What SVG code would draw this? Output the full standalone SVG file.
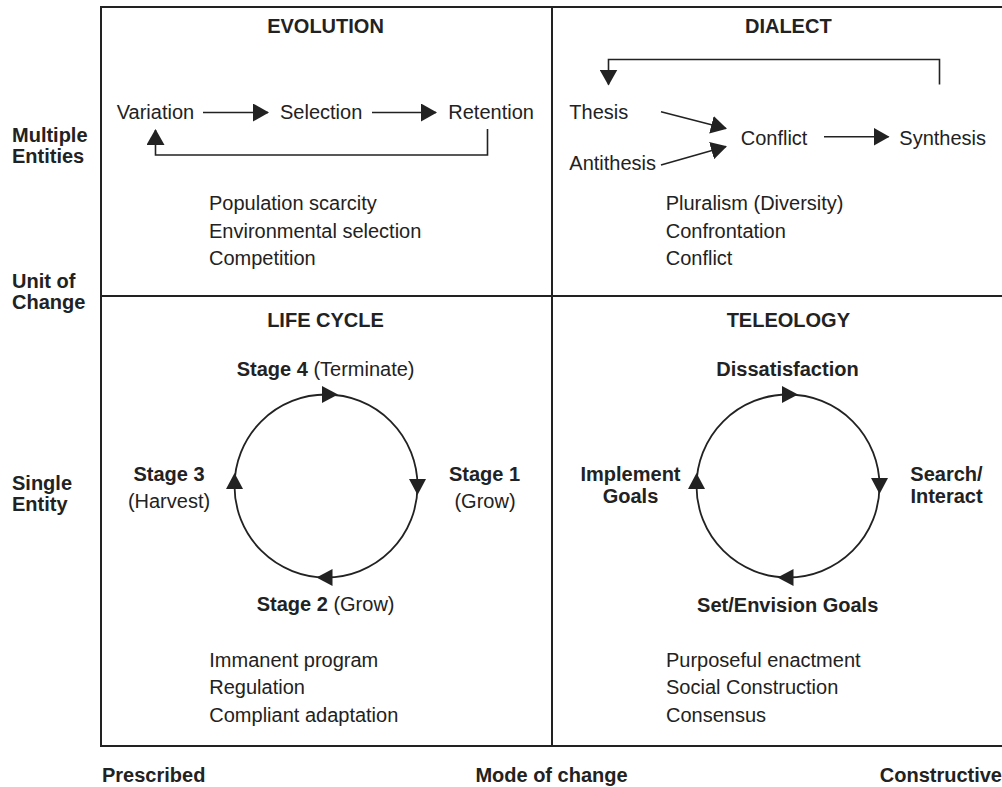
<svg xmlns="http://www.w3.org/2000/svg" xmlns:xlink="http://www.w3.org/1999/xlink" width="1002" height="787" viewBox="0 0 1002 787">
<style>
text{font-family:"Liberation Sans",Arial,sans-serif;font-size:20px;fill:#222}
.b{font-weight:bold}
.c{text-anchor:middle}
.frame{stroke:#222;stroke-width:2;fill:none}
.con{stroke:#222;stroke-width:1.6;fill:none}
.ring{stroke:#222;stroke-width:1.8;fill:none}
.head{fill:#222}
</style>
<defs>
<marker id="arr" viewBox="0 0 16 18" refX="15" refY="9" markerWidth="16" markerHeight="18" markerUnits="userSpaceOnUse" orient="auto">
<path d="M0,0 L16,9 L0,18 z" fill="#222"/>
</marker>
<path id="ah" d="M-8,-8.5 L8,0 L-8,8.5 z" class="head"/>
</defs>
<rect width="1002" height="787" fill="#fff"/>
<g id="frame">
<path class="frame" d="M1002,7 H101 V746 H1002"/>
<path class="frame" d="M552,7 V746"/>
<path class="frame" d="M101,296 H1002"/>
</g>
<g id="axis-labels">
<text class="b" x="12" y="141.7">Multiple</text>
<text class="b" x="12" y="163.3">Entities</text>
<text class="b" x="12" y="288">Unit of</text>
<text class="b" x="12" y="308.5">Change</text>
<text class="b" x="12" y="490">Single</text>
<text class="b" x="12" y="511">Entity</text>
<text class="b" x="102" y="782">Prescribed</text>
<text class="b c" x="551.5" y="782">Mode of change</text>
<text class="b" x="1002" y="782" text-anchor="end">Constructive</text>
</g>
<g id="connectors">
<line class="con" x1="203" y1="112.5" x2="268" y2="112.5" marker-end="url(#arr)"/>
<line class="con" x1="372" y1="112.5" x2="436" y2="112.5" marker-end="url(#arr)"/>
<path class="con" d="M487.5,129 V155 H155.5 V130" marker-end="url(#arr)"/>
<path class="con" d="M939.5,84.5 V59.5 H608.5 V84.5" marker-end="url(#arr)"/>
<line class="con" x1="661" y1="111.7" x2="726" y2="128.5" marker-end="url(#arr)"/>
<line class="con" x1="661" y1="165" x2="726" y2="146.5" marker-end="url(#arr)"/>
<line class="con" x1="824" y1="136.7" x2="888.5" y2="136.7" marker-end="url(#arr)"/>
<circle class="ring" cx="326" cy="486" r="91.5"/>
<use xlink:href="#ah" transform="translate(330,394.5)"/>
<use xlink:href="#ah" transform="translate(417.5,487) rotate(90)"/>
<use xlink:href="#ah" transform="translate(324.5,577.5) rotate(180)"/>
<use xlink:href="#ah" transform="translate(234.5,481) rotate(-90)"/>
<circle class="ring" cx="788" cy="486" r="91.5"/>
<use xlink:href="#ah" transform="translate(790,394.5)"/>
<use xlink:href="#ah" transform="translate(879.5,486) rotate(90)"/>
<use xlink:href="#ah" transform="translate(785.5,577.5) rotate(180)"/>
<use xlink:href="#ah" transform="translate(696.5,481) rotate(-90)"/>
</g>
<g id="evolution">
<text class="b c" x="325.5" y="33.3">EVOLUTION</text>
<text x="116.7" y="119">Variation</text>
<text x="280" y="119">Selection</text>
<text x="448.3" y="119">Retention</text>
<text x="209" y="210">Population scarcity</text>
<text x="209" y="237.5">Environmental selection</text>
<text x="209" y="265">Competition</text>
</g>
<g id="dialect">
<text class="b c" x="788.3" y="33.3">DIALECT</text>
<text x="569.3" y="119">Thesis</text>
<text x="569.3" y="170">Antithesis</text>
<text x="740.7" y="145">Conflict</text>
<text x="899.3" y="145">Synthesis</text>
<text x="665.7" y="210">Pluralism (Diversity)</text>
<text x="665.7" y="237.5">Confrontation</text>
<text x="665.7" y="265">Conflict</text>
</g>
<g id="life-cycle">
<text class="b c" x="325.5" y="327.3">LIFE CYCLE</text>
<text x="236.7" y="375.7"><tspan class="b">Stage 4</tspan> (Terminate)</text>
<text class="b c" x="169" y="480.7">Stage 3</text>
<text class="c" x="169" y="507.5">(Harvest)</text>
<text class="b c" x="484.5" y="480.7">Stage 1</text>
<text class="c" x="485" y="507.5">(Grow)</text>
<text x="256.7" y="610.7"><tspan class="b">Stage 2</tspan> (Grow)</text>
<text x="209.3" y="666.7">Immanent program</text>
<text x="209.3" y="694">Regulation</text>
<text x="209.3" y="721.7">Compliant adaptation</text>
</g>
<g id="teleology">
<text class="b c" x="788.3" y="327.3">TELEOLOGY</text>
<text class="b c" x="787.5" y="375.7">Dissatisfaction</text>
<text class="b c" x="630.5" y="480.7">Implement</text>
<text class="b c" x="630.5" y="502.7">Goals</text>
<text class="b c" x="946.5" y="480.7">Search/</text>
<text class="b c" x="946.5" y="502.7">Interact</text>
<text class="b c" x="787.7" y="611.7">Set/Envision Goals</text>
<text x="666" y="666.7">Purposeful enactment</text>
<text x="666" y="694">Social Construction</text>
<text x="666" y="721.7">Consensus</text>
</g>
</svg>
